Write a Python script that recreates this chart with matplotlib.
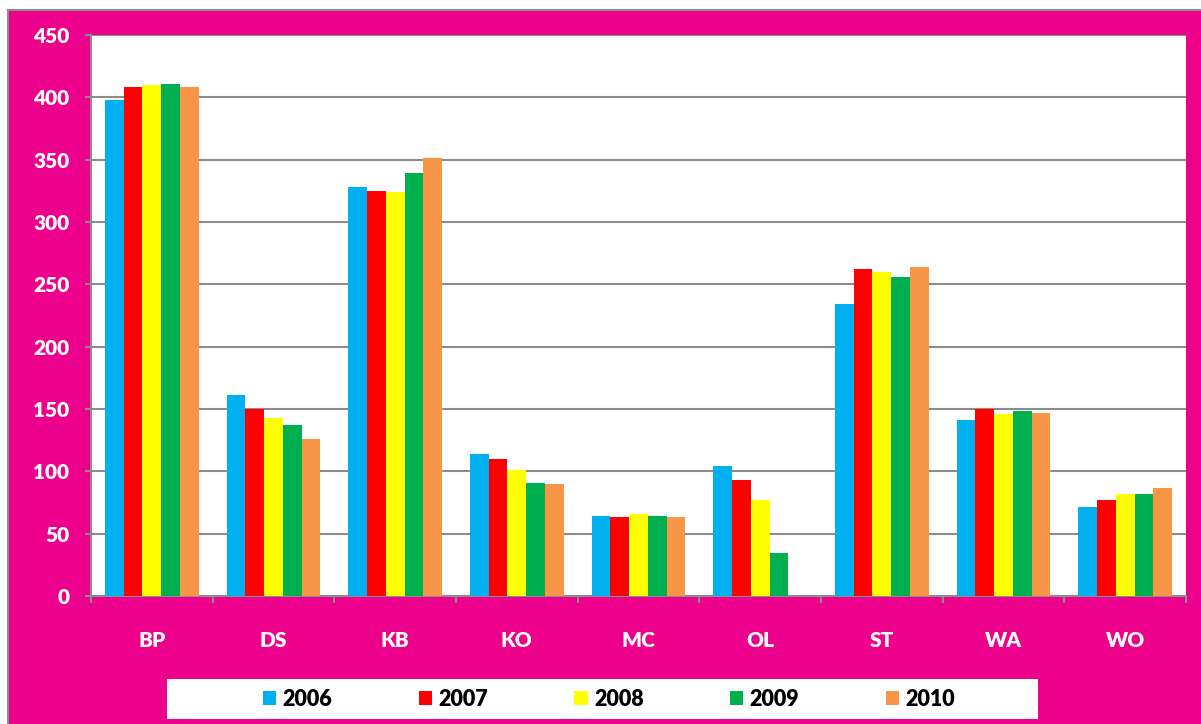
import numpy as np
import matplotlib
matplotlib.use("Agg")
import matplotlib.pyplot as plt
from matplotlib.patches import Rectangle, Patch

categories = ["BP", "DS", "KB", "KO", "MC", "OL", "ST", "WA", "WO"]
years = ["2006", "2007", "2008", "2009", "2010"]
v2006 = [398, 161, 328, 114, 64, 104, 234, 141, 71.5]
v2007 = [408, 150, 325, 110, 63, 93, 262.5, 150, 77]
v2008 = [409.5, 143, 324, 101, 65.5, 77, 260, 146, 81.5]
v2009 = [411, 137, 339.5, 91, 64, 34.5, 255.5, 148.5, 81.5]
v2010 = [408, 126, 351, 90, 63, np.nan, 264, 147, 87]
series = [v2006, v2007, v2008, v2009, v2010]
colors = ["#00B0F0", "#FF0000", "#FFFF00", "#00B050", "#F79646"]
yticks = [0, 50, 100, 150, 200, 250, 300, 350, 400, 450]

plt.rcParams['font.family'] = ['Lato', 'DejaVu Sans']

W, H = 1201, 724
fig = plt.figure(figsize=(W / 100, H / 100), dpi=100, facecolor="white")

# magenta chart area
fig.patches.append(Rectangle((8 / W, -0.01), 1.0, (H - 10) / H + 0.01,
                             transform=fig.transFigure, facecolor="#EC008C",
                             edgecolor="#8C8C8C", lw=1.5, zorder=0))
# white legend box
fig.patches.append(Rectangle((167 / W, (H - 719) / H), 871 / W, 40 / H,
                             transform=fig.transFigure, facecolor="white",
                             edgecolor="none", zorder=1))

ax = fig.add_axes([91 / W, (H - 596) / H, 1095 / W, 561 / H])
ax.set_zorder(3)
ax.set_facecolor("white")

x = np.arange(len(categories))
bw = 0.1545
for i, (vals, c) in enumerate(zip(series, colors)):
    ax.bar(x + (i - 2) * bw, vals, width=bw, color=c, edgecolor="none", zorder=3)

ax.set_xlim(-0.5, len(categories) - 0.5)
ax.set_ylim(0, 450)
ax.set_yticks(yticks)
ax.set_yticklabels([str(t) for t in yticks])
ax.set_xticks(x)
ax.set_xticklabels(categories)
ax.set_xticks(np.arange(-0.5, len(categories)), minor=True)

ax.grid(axis="y", color="#8C8C8C", lw=1.5, zorder=1)
ax.set_axisbelow(True)
for s in ["top", "right"]:
    ax.spines[s].set_visible(False)
for s in ["left", "bottom"]:
    ax.spines[s].set_color("#8C8C8C")
    ax.spines[s].set_linewidth(1.5)

ax.tick_params(axis="x", which="major", length=0, pad=25, labelsize=15,
               labelcolor="white")
ax.tick_params(axis="x", which="minor", length=5, width=1.5, color="#8C8C8C",
               direction="out")
ax.tick_params(axis="y", length=4.5, width=1.5, color="#8C8C8C", pad=11,
               labelsize=15, labelcolor="white")
for lab in ax.get_xticklabels() + ax.get_yticklabels():
    lab.set_fontweight("heavy")

handles = [Patch(facecolor=c, edgecolor="none") for c in colors]
leg = fig.legend(handles, years, loc="center", ncol=5,
                 bbox_to_anchor=(609 / W, 1 - 699 / H), frameon=False,
                 handlelength=0.62, handleheight=0.62, handletextpad=0.3,
                 columnspacing=4.0, prop={"size": 15.5, "weight": "heavy"})
leg.set_zorder(5)

fig.savefig("out.png", dpi=100, facecolor="white")
